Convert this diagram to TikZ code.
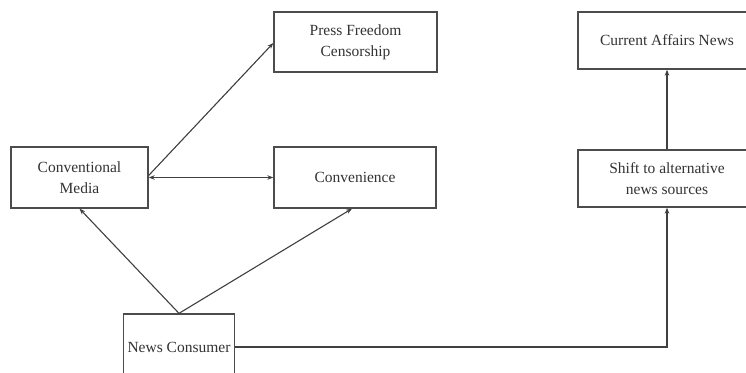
\documentclass[tikz,border=0pt]{standalone}
\usepackage{fontspec}
\setmainfont{Liberation Serif}
\usetikzlibrary{arrows.meta,calc}
\begin{document}
\begin{tikzpicture}[x=1pt,y=-1pt,
  box/.style={draw=black!70,line width=1.3pt,align=center,inner sep=0pt,
    font=\fontsize{15.5}{21}\selectfont,text=black!80},
  conn/.style={draw=black!75,line width=1.1pt,-{Stealth[length=6pt,width=4.5pt]}},
  dconn/.style={draw=black!75,line width=1.1pt,{Stealth[length=6pt,width=4.5pt]}-{Stealth[length=6pt,width=4.5pt]}}]
\useasboundingbox (0,0) rectangle (746,372);
\fill[white] (0,0) rectangle (746,372);
\node[box,minimum width=163pt,minimum height=60pt] (pf) at (355.5,42) {Press Freedom\\Censorship};
\node[box,minimum width=137pt,minimum height=61pt] (cm) at (79.5,177.5) {Conventional\\Media};
\node[box,minimum width=162pt,minimum height=61pt] (cv) at (355,177.5) {Convenience};
\node[box,minimum width=178pt,minimum height=57pt] (ca) at (667,40.5) {Current Affairs News};
\node[box,minimum width=178pt,minimum height=57pt] (sh) at (667,178.5) {Shift to alternative\\news sources};
\node[box,minimum width=111pt,minimum height=66pt] (nc) at (179,347) {News Consumer};
\draw[conn] (nc.north) -- (cm.south);
\draw[conn] (nc.north) -- ($(cv.south)+(-3,0)$);
\draw[dconn] (cm.east) -- (cv.west);
\draw[conn] ($(cm.east)+(0,-2)$) -- ($(pf.west)+(0,1)$);
\draw[conn] (nc.east) -- (sh.south |- nc.east) -- (sh.south);
\draw[conn] (sh.north) -- (ca.south);
\end{tikzpicture}
\end{document}
